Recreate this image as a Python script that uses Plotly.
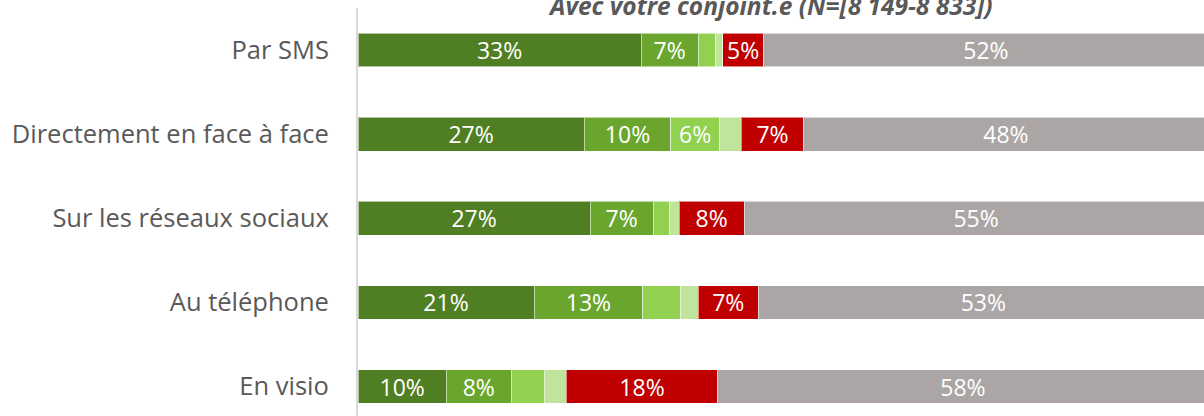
import plotly.graph_objects as go

categories = ["Par SMS", "Directement en face à face", "Sur les réseaux sociaux", "Au téléphone", "En visio"]
series_names = ["Très souvent", "Souvent", "Parfois", "Rarement", "Jamais", "Non concerné"]
colors = ["#507E22", "#6AA62E", "#92D050", "#C1E49C", "#C00000", "#ABA6A5"]

very_often = [33.3, 26.6, 27.3, 20.7, 10.4]
often = [6.7, 10.2, 7.4, 12.8, 7.6]
sometimes = [2.0, 5.7, 1.9, 4.4, 3.9]
rarely = [0.9, 2.6, 1.2, 2.1, 2.6]
never = [4.8, 7.3, 7.6, 7.1, 17.8]
not_concerned = [52.3, 47.6, 54.6, 52.9, 57.7]

title = "Avec votre conjoint.e (N=[8 149-8 833])"

series = [very_often, often, sometimes, rarely, never, not_concerned]

fig = go.Figure()
for name, vals, col in zip(series_names, series, colors):
    fig.add_trace(go.Bar(
        y=categories, x=vals, name=name, orientation="h",
        marker=dict(color=col, line=dict(color="rgba(255,255,255,0.55)", width=1)),
        text=[f"{round(v)}%" if v >= 4.5 else "" for v in vals],
        textposition="inside", insidetextanchor="middle", constraintext="none",
        textfont=dict(family="Open Sans", size=23, color="white"),
        width=0.40, hoverinfo="skip",
    ))

fig.update_layout(
    barmode="stack", showlegend=False,
    width=1204, height=416,
    margin=dict(l=358, r=0, t=8, b=0),
    paper_bgcolor="white", plot_bgcolor="white",
    uniformtext=dict(mode=False),
    xaxis=dict(range=[0, 99.5], visible=False, showgrid=False, zeroline=False),
    yaxis=dict(
        categoryorder="array", categoryarray=categories,
        range=[4.35, -0.5], showgrid=False, zeroline=False,
        showline=True, linecolor="#D9D9D9", linewidth=2,
        ticks="", ticklabelstandoff=22,
        tickfont=dict(family="Open Sans", size=25.5, color="#595959"),
    ),
    annotations=[dict(
        text=f"<b><i>{title}</i></b>", xref="paper", yref="paper",
        x=0.487, y=1.005, xanchor="center", yanchor="middle", showarrow=False,
        font=dict(family="Open Sans", size=24.5, color="#595959"),
    )],
)

fig.write_html("out.html", config={"displayModeBar": False},
               post_script="document.body.style.margin='0';document.body.style.padding='0';")
